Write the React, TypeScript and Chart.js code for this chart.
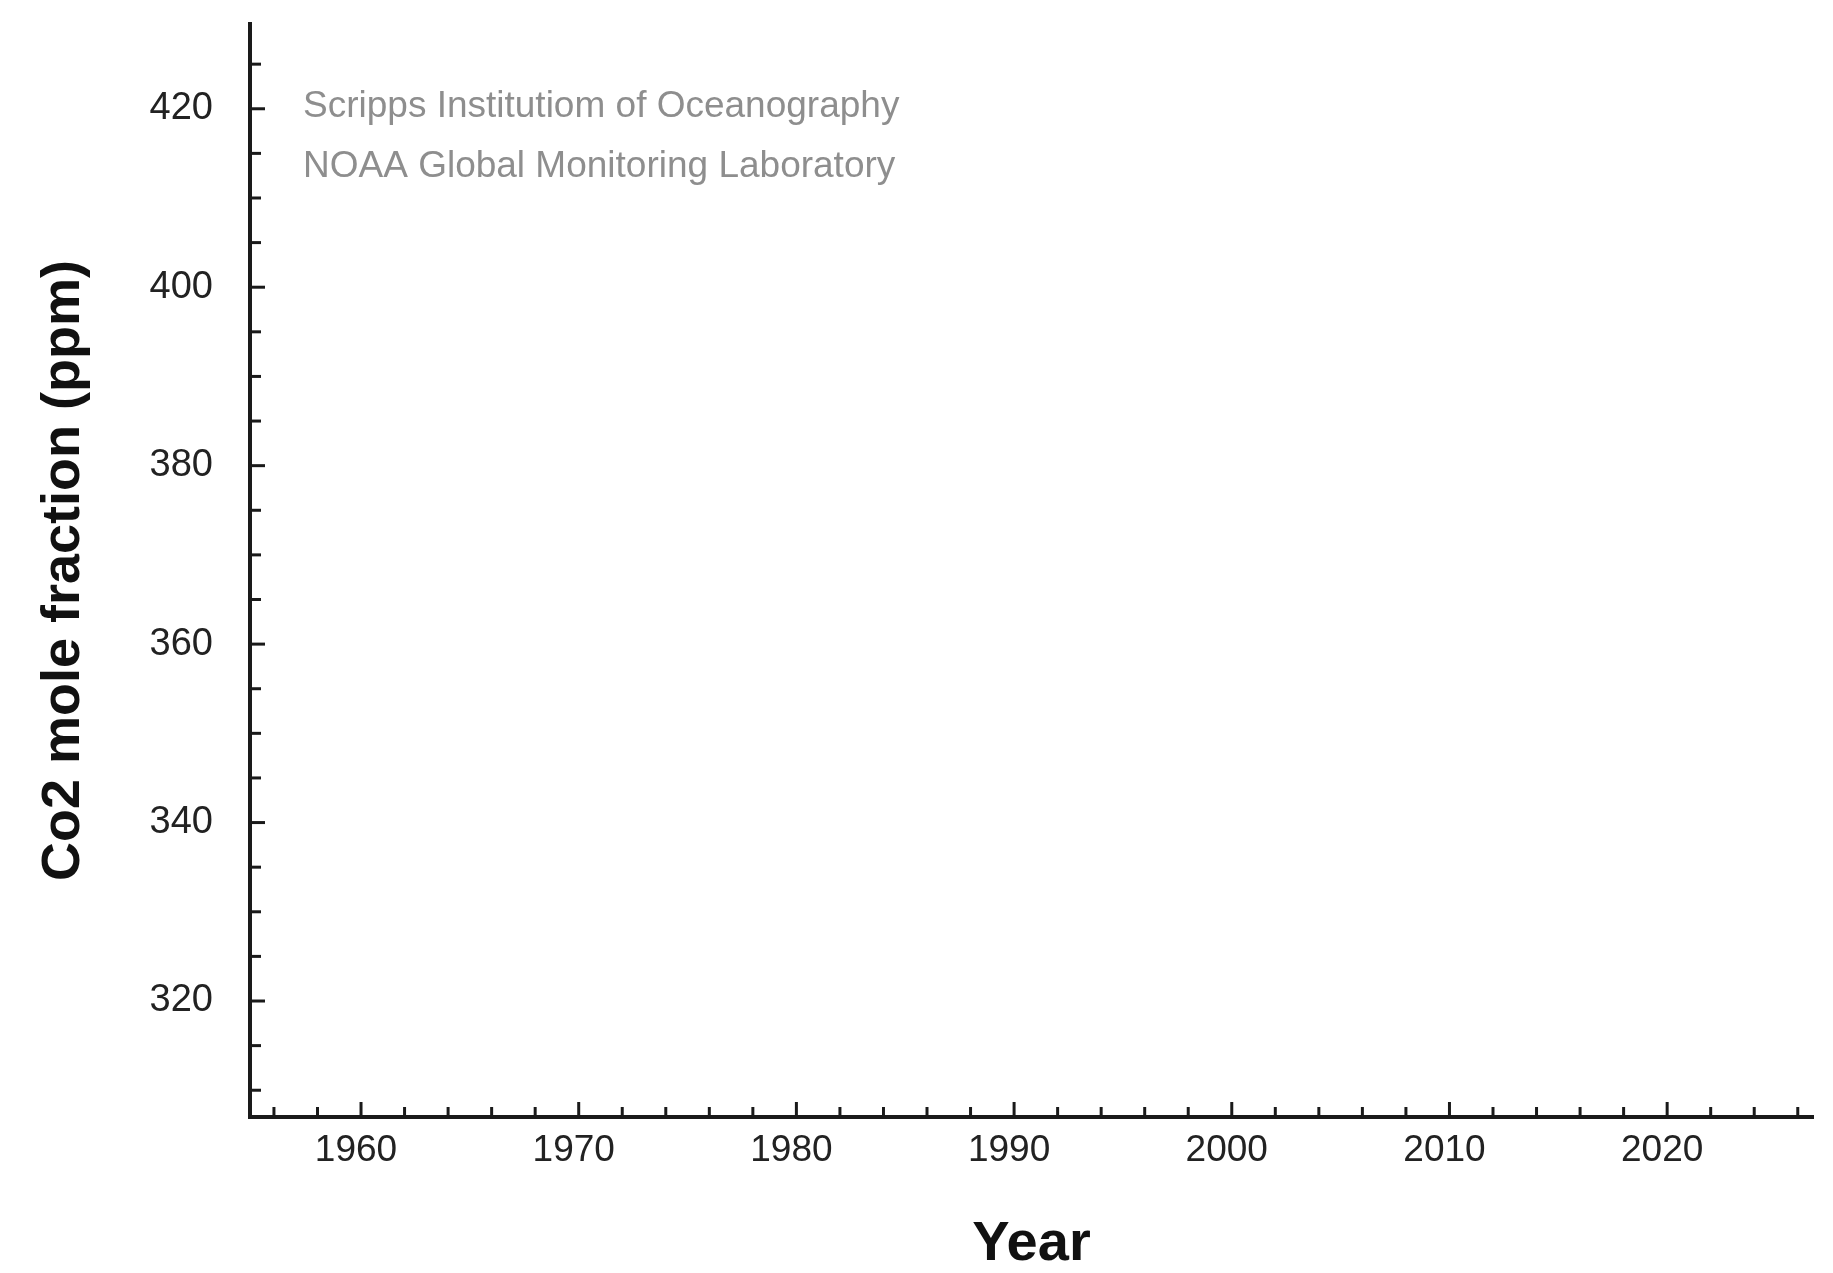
import React, { useEffect, useRef } from "react";
import { Chart, registerables } from "chart.js";

Chart.register(...registerables);

// ---- Data (the reference shows empty axes: no plotted series) ----
const SERIES_LABEL = "CO2 mole fraction";
const SERIES_VALUES: { x: number; y: number }[] = [];

const X_MIN = 1954.9;
const X_MAX = 2026.7;
const Y_MIN = 307;
const Y_MAX = 429.5;

const X_TICKS = [1956, 1958, 1960, 1962, 1964, 1966, 1968, 1970, 1972, 1974, 1976, 1978, 1980, 1982, 1984, 1986, 1988, 1990, 1992, 1994, 1996, 1998, 2000, 2002, 2004, 2006, 2008, 2010, 2012, 2014, 2016, 2018, 2020, 2022, 2024, 2026];
const X_LABELED = [1960, 1970, 1980, 1990, 2000, 2010, 2020];
const Y_TICKS = [310, 315, 320, 325, 330, 335, 340, 345, 350, 355, 360, 365, 370, 375, 380, 385, 390, 395, 400, 405, 410, 415, 420, 425];
const Y_LABELED = [320, 340, 360, 380, 400, 420];

const X_TITLE = "Year";
const Y_TITLE = "Co2 mole fraction (ppm)";
const SOURCE_LINES = ["Scripps Institutiom of Oceanography", "NOAA Global Monitoring Laboratory"];

const FONT = "'Liberation Sans', Arial, Helvetica, sans-serif";

const tickMarks = {
  id: "tickMarks",
  afterDraw(chart: any) {
    const ctx = chart.ctx;
    const xs = chart.scales.x;
    const ys = chart.scales.y;
    const area = chart.chartArea;
    ctx.save();
    ctx.strokeStyle = "#1a1a1a";
    ctx.lineWidth = 3;
    ctx.lineCap = "butt";
    for (const t of xs.ticks) {
      const px = xs.getPixelForValue(t.value);
      const len = X_LABELED.includes(t.value) ? 15 : 10;
      ctx.beginPath();
      ctx.moveTo(px, area.bottom);
      ctx.lineTo(px, area.bottom - len);
      ctx.stroke();
    }
    for (const t of ys.ticks) {
      const py = ys.getPixelForValue(t.value);
      const len = Y_LABELED.includes(t.value) ? 15 : 11;
      ctx.beginPath();
      ctx.moveTo(area.left, py);
      ctx.lineTo(area.left + len, py);
      ctx.stroke();
    }
    // source annotation
    ctx.fillStyle = "#8e8e8e";
    ctx.font = `37px ${FONT}`;
    ctx.textAlign = "left";
    ctx.textBaseline = "middle";
    SOURCE_LINES.forEach((line, i) => {
      ctx.fillText(line, area.left + 53, area.top + 83 + i * 60);
    });
    ctx.restore();
  },
};

export default function App() {
  const ref = useRef<HTMLCanvasElement | null>(null);

  useEffect(() => {
    if (!ref.current) return;
    const chart = new Chart(ref.current, {
      type: "scatter",
      data: {
        datasets: [
          {
            label: SERIES_LABEL,
            data: SERIES_VALUES,
            borderColor: "#1a1a1a",
            backgroundColor: "#1a1a1a",
          },
        ],
      },
      options: {
        animation: false,
        responsive: false,
        layout: { padding: { top: 24, right: 20, bottom: 0, left: 0 } },
        plugins: {
          legend: { display: false },
          tooltip: { enabled: false },
        },
        scales: {
          x: {
            type: "linear",
            min: X_MIN,
            max: X_MAX,
            afterBuildTicks: (scale: any) => {
              scale.ticks = X_TICKS.map((v) => ({ value: v }));
            },
            afterFit: (scale: any) => {
              scale.height = 156;
              scale.paddingLeft = 0;
              scale.paddingRight = 0;
            },
            grid: { display: false, drawTicks: false },
            border: { display: true, color: "#1a1a1a", width: 4 },
            ticks: {
              autoSkip: false,
              maxRotation: 0,
              padding: 12,
              labelOffset: -5,
              color: "#222",
              font: { family: FONT, size: 37 },
              callback: (v: any) => (X_LABELED.includes(Number(v)) ? String(v) : ""),
            },
            title: {
              display: true,
              text: X_TITLE,
              color: "#111",
              font: { family: FONT, size: 56, weight: "bold", lineHeight: 1 },
              padding: { top: 0, bottom: 0 },
            },
          },
          y: {
            type: "linear",
            min: Y_MIN,
            max: Y_MAX,
            afterBuildTicks: (scale: any) => {
              scale.ticks = Y_TICKS.map((v) => ({ value: v }));
            },
            afterFit: (scale: any) => {
              scale.width = 250;
              scale.paddingTop = 0;
              scale.paddingBottom = 0;
            },
            grid: { display: false, drawTicks: false },
            border: { display: true, color: "#1a1a1a", width: 4 },
            ticks: {
              autoSkip: false,
              padding: 37,
              color: "#222",
              font: { family: FONT, size: 38 },
              callback: (v: any) => (Y_LABELED.includes(Number(v)) ? String(v) : ""),
            },
            title: {
              display: true,
              text: Y_TITLE,
              color: "#111",
              font: { family: FONT, size: 54, weight: "bold", lineHeight: 1 },
              padding: { top: 37, bottom: 0 },
            },
          },
        },
      },
      plugins: [tickMarks],
    });
    return () => chart.destroy();
  }, []);

  return (
    <div style={{ position: "fixed", left: 0, top: 0, width: 1833, height: 1273, background: "#fff" }}>
      <canvas ref={ref} width={1833} height={1273} style={{ display: "block" }} />
    </div>
  );
}
